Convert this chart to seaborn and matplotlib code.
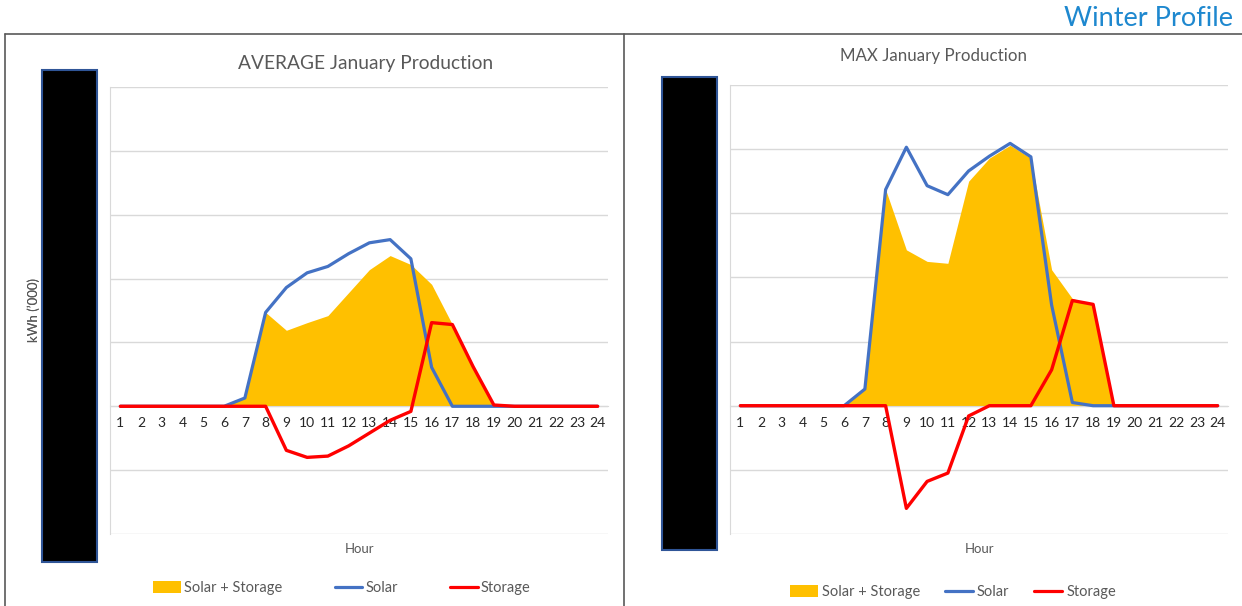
import matplotlib
matplotlib.use("Agg")
import matplotlib.pyplot as plt
from matplotlib.lines import Line2D
from matplotlib.patches import Patch, Rectangle
import seaborn as sns
import pandas as pd

# Data (units = one gridline step, labels redacted)
hours = list(range(1, 25))

avg_solar = [0, 0, 0, 0, 0, 0, 0.13, 1.47, 1.86, 2.09, 2.19, 2.39,
             2.56, 2.61, 2.31, 0.61, 0, 0, 0, 0, 0, 0, 0, 0]
avg_storage = [0, 0, 0, 0, 0, 0, 0, 0, -0.69, -0.80, -0.78, -0.62,
               -0.42, -0.22, -0.08, 1.31, 1.28, 0.62, 0.02, 0, 0, 0, 0, 0]
avg_combined = [0, 0, 0, 0, 0, 0, 0.13, 1.47, 1.19, 1.31, 1.42, 1.78,
                2.14, 2.36, 2.22, 1.91, 1.28, 0.62, 0.02, 0, 0, 0, 0, 0]

max_solar = [0, 0, 0, 0, 0, 0, 0.26, 3.37, 4.03, 3.43, 3.29, 3.66,
             3.89, 4.09, 3.88, 1.57, 0.05, 0, 0, 0, 0, 0, 0, 0]
max_storage = [0, 0, 0, 0, 0, 0, 0, 0, -1.60, -1.18, -1.05, -0.16,
               0, 0, 0, 0.56, 1.64, 1.58, 0, 0, 0, 0, 0, 0]
max_combined = [0, 0, 0, 0, 0, 0, 0.26, 3.37, 2.43, 2.25, 2.22, 3.50,
                3.86, 4.06, 3.86, 2.12, 1.67, 1.58, 0, 0, 0, 0, 0, 0]

titles = ["AVERAGE January Production", "MAX January Production"]
labels = ["Solar + Storage", "Solar", "Storage"]

YELLOW = "#FFC000"
BLUE = "#4472C4"
RED = "#FF0000"
GREY = "#595959"
GRID = "#D9D9D9"

sns.set_style("white")
plt.rcParams["font.family"] = ["Lato", "DejaVu Sans"]

W, H = 1242, 606
fig = plt.figure(figsize=(W / 100, H / 100), dpi=100)


def fx(px):
    return px / W


def fy(py):
    return 1 - py / H


# (left, top, right, bottom) of each plot area in pixels
boxes = [(110, 87, 608, 534), (730, 85, 1228, 534)]
datasets = [
    pd.DataFrame({"hour": hours, "solar": avg_solar, "storage": avg_storage, "combined": avg_combined}),
    pd.DataFrame({"hour": hours, "solar": max_solar, "storage": max_storage, "combined": max_combined}),
]
title_pos = [(366, 63, 13.8), (933, 56, 12.2)]
redact = [(42, 70, 97, 562), (662, 77, 717, 550)]
legend_pos = [(342, 588, 0.2, 3.6), (953, 592, 0.3, 1.7)]

for i in range(2):
    l, t, r, b = boxes[i]
    ax = fig.add_axes([fx(l), fy(b), fx(r - l), (b - t) / H])
    df = datasets[i]

    ax.fill_between(df["hour"], 0, df["combined"], color=YELLOW, lw=0, zorder=2)
    sns.lineplot(data=df, x="hour", y="solar", ax=ax, color=BLUE, lw=2.3, zorder=3)
    sns.lineplot(data=df, x="hour", y="storage", ax=ax, color=RED, lw=2.4, zorder=4)

    ax.set_xlim(0.5, 24.5)
    ax.set_ylim(-2, 5)
    ax.set_yticks(range(-2, 6))
    ax.set_yticklabels([])
    ax.yaxis.grid(True, color=GRID, lw=1)
    ax.set_axisbelow(True)
    ax.tick_params(axis="y", length=0)

    ax.set_xticks(hours)
    ax.set_xticklabels([str(h) for h in hours], fontsize=7, color="#6E6E6E")
    ax.tick_params(axis="x", length=0, pad=8)
    ax.spines["bottom"].set_position(("data", 0))
    ax.spines["bottom"].set_color(GRID)
    ax.spines["left"].set_color(GRID)
    ax.spines["top"].set_visible(False)
    ax.spines["right"].set_visible(False)

    ax.set_xlabel("Hour", fontsize=9.5, color=GREY)
    ax.xaxis.set_label_coords(0.5, -0.02)
    ax.set_ylabel("kWh (\u2019000)", fontsize=9.5, color=GREY)
    ax.yaxis.set_label_coords((40 - l) / (r - l), 0.5)

    tx, ty, tsize = title_pos[i]
    fig.text(fx(tx), fy(ty), titles[i], fontsize=tsize,
             color=GREY, ha="center", va="center")

    # redaction block over the value axis
    x0, y0, x1, y1 = redact[i]
    fig.add_artist(Rectangle((fx(x0), fy(y1)), fx(x1 - x0), (y1 - y0) / H,
                             transform=fig.transFigure, facecolor="black",
                             edgecolor="#2F5597", lw=1.5))

    handles = [Patch(facecolor=YELLOW, edgecolor="none"),
               Line2D([], [], color=BLUE, lw=2.3),
               Line2D([], [], color=RED, lw=2.3)]
    lx, ly, tpad, cspace = legend_pos[i]
    fig.legend(handles, labels, loc="center", bbox_to_anchor=(fx(lx), fy(ly)),
               ncol=3, frameon=False, fontsize=10.5, labelcolor=GREY,
               handlelength=1.9, handleheight=0.9, handletextpad=tpad,
               columnspacing=cspace)

# outer frame lines
fig.add_artist(Line2D([fx(5), 1], [fy(34), fy(34)], transform=fig.transFigure, color=GREY, lw=1.2))
fig.add_artist(Line2D([fx(5), fx(5)], [fy(34), 0], transform=fig.transFigure, color=GREY, lw=1.2))
fig.add_artist(Line2D([fx(624), fx(624)], [fy(34), 0], transform=fig.transFigure, color=GREY, lw=1.2))

fig.text(fx(1233), fy(18), "Winter Profile", fontsize=19.5, color="#1E88CF",
         ha="right", va="center")

fig.savefig("out.png", dpi=100)
